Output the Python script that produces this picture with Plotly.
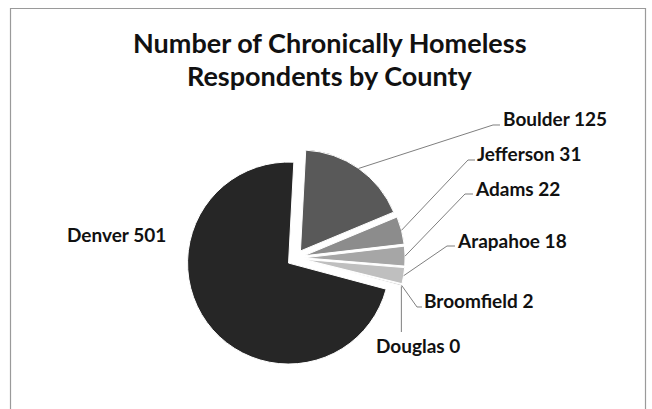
import math
import plotly.graph_objects as go

# ---- data ----
counties = ["Boulder", "Jefferson", "Adams", "Arapahoe", "Broomfield", "Douglas", "Denver"]
respondents = [125, 31, 22, 18, 2, 0, 501]
colors = ["#595959", "#8c8c8c", "#a6a6a6", "#bfbfbf", "#d9d9d9", "#eeeeee", "#262626"]
title_lines = ["Number of Chronically Homeless", "Respondents by County"]

# ---- layout constants (pixels) ----
W, H = 652, 409
CX, CY, R = 295.5, 258.0, 101.0
PULL = 0.085
ROTATION = 3
FONT = "Lato"
LABEL_SIZE = 19
TITLE_SIZE = 27

# leader-line elbows / ends and label anchors (pixel layout positions)
label_layout = {
    "Boulder":    dict(pts=[(493, 125), (500, 125)], tx=501, ty=118),
    "Jefferson":  dict(pts=[(468, 160), (475, 160)], tx=475, ty=153),
    "Adams":      dict(pts=[(465, 194), (473, 194)], tx=473, ty=188),
    "Arapahoe":   dict(pts=[(447, 246), (455, 246)], tx=455, ty=240),
    "Broomfield": dict(pts=[(417, 307), (422, 307)], tx=422, ty=300),
    "Douglas":    dict(pts=[("v", 332)], tx=374, ty=345),
    "Denver":     dict(pts=None, tx=65, ty=234),
}


def px(x):
    return x / W


def py(y):
    return 1 - y / H


box = R * (1 + PULL)
fig = go.Figure()
fig.add_trace(go.Pie(
    labels=counties,
    values=respondents,
    sort=False,
    direction="clockwise",
    rotation=ROTATION,
    pull=[PULL] * len(counties),
    marker=dict(colors=colors, line=dict(color="white", width=1)),
    textinfo="none",
    hoverinfo="label+value",
    showlegend=False,
    domain=dict(x=[px(CX - box), px(CX + box)], y=[py(CY + box), py(CY - box)]),
))

shapes = [dict(type="rect", xref="paper", yref="paper",
               x0=px(10.5), x1=px(645.5), y0=py(430), y1=py(8.5),
               line=dict(color="#9a9a9a", width=1.2), fillcolor="rgba(0,0,0,0)")]
annotations = []

total = sum(respondents)
cum = 0
start_angle = 90 - ROTATION
for name, val in zip(counties, respondents):
    mid = start_angle - (cum + val / 2) * 360 / total
    cum += val
    a = math.radians(mid)
    sx = CX + R * (1 + PULL) * math.cos(a)
    sy = CY - R * (1 + PULL) * math.sin(a)
    lay = label_layout[name]
    if lay["pts"]:
        path_pts = [(sx, sy)]
        for p in lay["pts"]:
            if p[0] == "v":
                path_pts.append((sx, p[1]))
            else:
                path_pts.append(p)
        d = "M " + " L ".join(f"{px(x):.5f},{py(y):.5f}" for x, y in path_pts)
        shapes.append(dict(type="path", xref="paper", yref="paper", path=d,
                           line=dict(color="#7f7f7f", width=1)))
    annotations.append(dict(
        x=px(lay["tx"]), y=py(lay["ty"]), xref="paper", yref="paper",
        xanchor="left", yanchor="middle", showarrow=False,
        text=f"<b>{name} {val}</b>",
        font=dict(family=FONT, size=LABEL_SIZE, color="#111111"),
    ))

for i, line in enumerate(title_lines):
    annotations.append(dict(
        x=px(330), y=py(42 + i * 34), xref="paper", yref="paper",
        xanchor="center", yanchor="middle", showarrow=False,
        text=f"<b>{line}</b>",
        font=dict(family=FONT, size=TITLE_SIZE, color="#111111"),
    ))

fig.update_layout(
    width=W, height=H,
    margin=dict(l=0, r=0, t=0, b=0),
    paper_bgcolor="white", plot_bgcolor="white",
    shapes=shapes, annotations=annotations,
)

fig.write_html("out.html",
               config={"displayModeBar": False},
               post_script="document.body.style.margin='0';document.body.style.overflow='hidden';")
